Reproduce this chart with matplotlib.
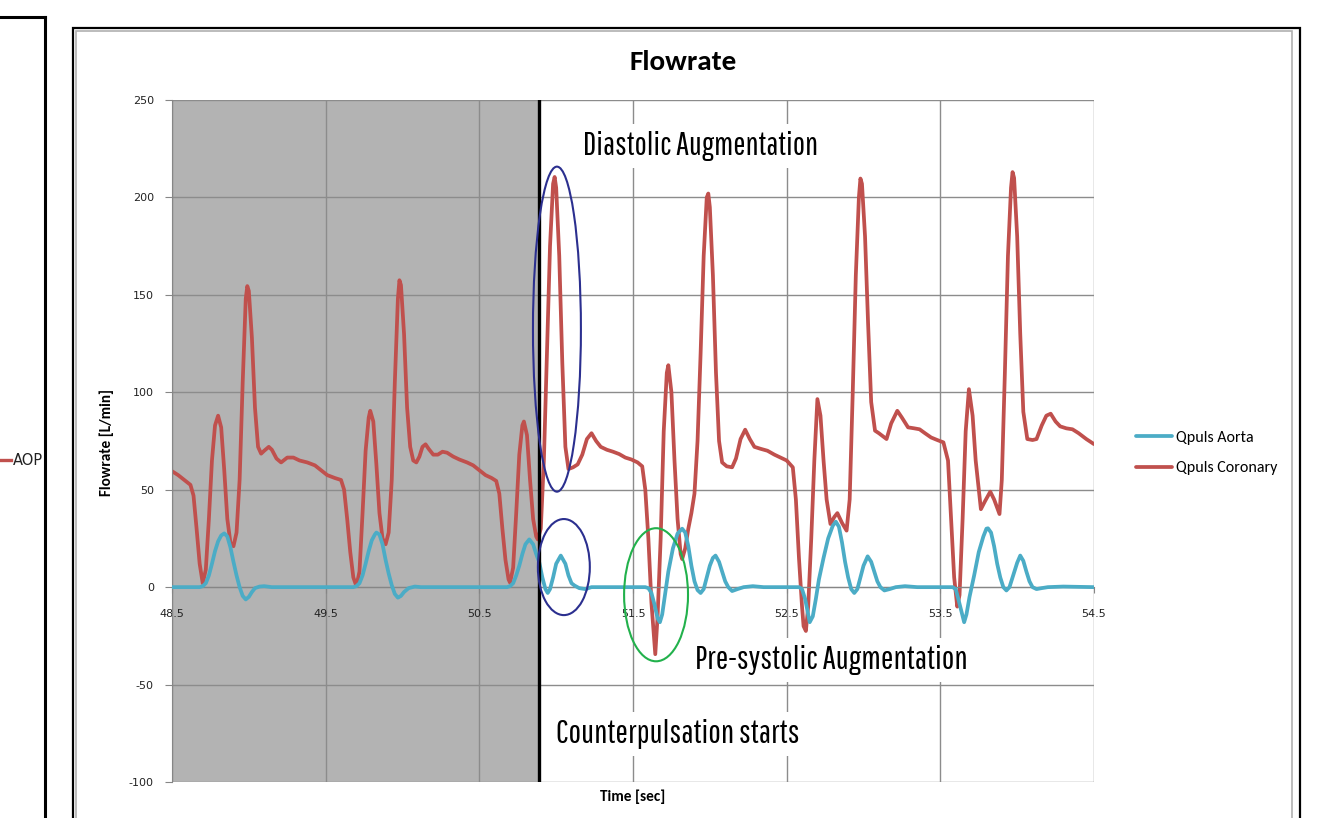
import matplotlib.pyplot as plt
from matplotlib.patches import Ellipse, Rectangle
from matplotlib.lines import Line2D
from matplotlib import font_manager

plt.rcParams['axes.unicode_minus'] = False

# ---- data ----
t_coronary = [48.50, 48.54, 48.58, 48.62, 48.64, 48.66, 48.68, 48.70, 48.72, 48.74, 48.76, 48.78, 48.80, 48.82,
              48.84, 48.86, 48.88, 48.90, 48.92, 48.94, 48.96, 48.98, 48.99, 49.00, 49.02, 49.04, 49.06, 49.08,
              49.10, 49.13, 49.15, 49.18, 49.21, 49.25, 49.29, 49.33, 49.38, 49.43, 49.47, 49.51, 49.56, 49.60,
              49.62, 49.64, 49.66, 49.68, 49.70, 49.72, 49.74, 49.76, 49.78, 49.79, 49.81, 49.83, 49.85, 49.87,
              49.89, 49.91, 49.93, 49.95, 49.97, 49.98, 49.99, 50.01, 50.03, 50.05, 50.07, 50.09, 50.11, 50.13,
              50.15, 50.17, 50.20, 50.23, 50.26, 50.29, 50.33, 50.37, 50.42, 50.46, 50.50, 50.54, 50.58, 50.61,
              50.63, 50.65, 50.67, 50.69, 50.70, 50.72, 50.74, 50.76, 50.78, 50.79, 50.81, 50.83, 50.85, 50.87,
              50.88, 50.90, 50.92, 50.94, 50.96, 50.98, 50.99, 51.00, 51.02, 51.04, 51.06, 51.08, 51.11, 51.14,
              51.17, 51.20, 51.23, 51.26, 51.29, 51.33, 51.37, 51.41, 51.45, 51.49, 51.53, 51.56, 51.58, 51.60,
              51.62, 51.645, 51.66, 51.68, 51.70, 51.72, 51.73, 51.75, 51.77, 51.79, 51.81, 51.82, 51.84, 51.86,
              51.88, 51.90, 51.92, 51.94, 51.96, 51.98, 51.99, 52.00, 52.02, 52.04, 52.06, 52.08, 52.11, 52.145,
              52.17, 52.20, 52.23, 52.26, 52.29, 52.33, 52.375, 52.42, 52.46, 52.50, 52.54, 52.56, 52.58, 52.60,
              52.61, 52.625, 52.64, 52.66, 52.68, 52.70, 52.72, 52.74, 52.76, 52.785, 52.81, 52.83, 52.86, 52.89,
              52.91, 52.93, 52.95, 52.97, 52.98, 52.99, 53.01, 53.03, 53.05, 53.075, 53.10, 53.15, 53.18, 53.22,
              53.25, 53.29, 53.33, 53.365, 53.40, 53.44, 53.48, 53.52, 53.55, 53.57, 53.59, 53.61, 53.625, 53.645,
              53.665, 53.686, 53.71, 53.73, 53.764, 53.79, 53.825, 53.85, 53.885, 53.90, 53.92, 53.94, 53.96, 53.97,
              53.98, 54.00, 54.02, 54.04, 54.066, 54.10, 54.126, 54.16, 54.19, 54.218, 54.25, 54.28, 54.32, 54.36,
              54.40, 54.45, 54.50]
q_coronary = [59.5, 57.5, 55, 52.5, 47, 30, 12, 2, 9, 35, 65, 83, 88, 82,
              60, 35, 23, 21, 28, 55, 105, 148, 154.5, 152, 128, 92, 72, 68.5,
              70, 72, 70.5, 66, 64, 66.5, 66.5, 65, 64, 62.5, 60, 57.5, 56, 55,
              50, 35, 18, 5, 0.5, 8, 38, 70, 87, 90.5, 85, 63, 38, 25,
              22, 28, 55, 105, 148, 157.5, 155, 130, 92, 72, 65, 64, 67, 72,
              73.3, 71, 68, 68, 69.5, 69, 67, 65.5, 64, 62.5, 60, 57.5, 56, 54.5,
              48, 30, 14, 4, 2.3, 10, 38, 68, 83, 85, 78, 55, 35, 26,
              24.5, 30, 65, 120, 175, 207, 210.5, 205, 170, 115, 72, 60.6, 61.5, 63,
              68, 76, 79, 75, 72, 70.5, 69.5, 68.3, 66.5, 65.5, 64, 62, 50, 25,
              -8, -34.4, -15, 25, 80, 110, 113.9, 100, 65, 35, 17, 14.4, 20, 30,
              38, 48, 75, 120, 170, 200, 202, 195, 160, 110, 75, 64, 62, 61.5,
              66, 76, 80.8, 76, 72, 71, 70, 68, 66.5, 65, 61.5, 45, 15, -10,
              -20, -22.5, -10, 25, 65, 96.5, 88, 65, 45, 32.4, 36, 38, 33, 29,
              45, 100, 160, 200, 209.7, 207, 180, 135, 95, 80.3, 79, 76, 84, 90.5,
              87, 82, 81.5, 81, 79, 76.8, 75.5, 74.3, 65, 35, 5, -10, -4, 35,
              80, 101.6, 88, 65, 40, 44, 49, 45, 37.5, 55, 110, 170, 205, 213,
              210, 180, 130, 90, 76, 75.5, 76, 83, 88, 89, 85, 82.5, 81.5, 81,
              79, 76, 73.4]

t_aorta = [48.50, 48.68, 48.70, 48.72, 48.74, 48.76, 48.78, 48.80, 48.82, 48.84, 48.86, 48.88, 48.90, 48.92,
           48.94, 48.96, 48.98, 49.00, 49.02, 49.04, 49.07, 49.10, 49.15, 49.68, 49.70, 49.72, 49.74, 49.76,
           49.78, 49.80, 49.82, 49.83, 49.85, 49.87, 49.89, 49.91, 49.93, 49.95, 49.97, 49.99, 50.01, 50.04,
           50.08, 50.12, 50.68, 50.70, 50.72, 50.74, 50.76, 50.78, 50.80, 50.825, 50.85, 50.87, 50.89, 50.91,
           50.93, 50.945, 50.96, 50.98, 51.00, 51.03, 51.06, 51.08, 51.10, 51.12, 51.15, 51.19, 51.23, 51.58,
           51.60, 51.62, 51.64, 51.66, 51.675, 51.69, 51.71, 51.73, 51.76, 51.79, 51.82, 51.84, 51.86, 51.88,
           51.90, 51.92, 51.94, 51.96, 51.98, 52.00, 52.02, 52.037, 52.06, 52.08, 52.10, 52.12, 52.145, 52.18,
           52.22, 52.28, 52.35, 52.58, 52.60, 52.62, 52.65, 52.67, 52.69, 52.71, 52.74, 52.77, 52.80, 52.82,
           52.84, 52.86, 52.88, 52.90, 52.92, 52.94, 52.96, 52.98, 53.00, 53.027, 53.05, 53.07, 53.09, 53.11,
           53.136, 53.17, 53.21, 53.27, 53.35, 53.58, 53.60, 53.62, 53.655, 53.67, 53.69, 53.72, 53.75, 53.78,
           53.80, 53.81, 53.83, 53.85, 53.87, 53.89, 53.91, 53.93, 53.95, 53.97, 54.00, 54.02, 54.04, 54.06,
           54.08, 54.10, 54.126, 54.16, 54.20, 54.30, 54.50]
q_aorta = [0, 0, 0.5, 2, 6, 12, 18.5, 23.5, 26.5, 27.6, 26, 20.5, 13, 6,
           0, -4.5, -6.3, -5, -2.5, -0.5, 0.3, 0.5, 0, 0, 0.5, 2, 6, 12,
           18.5, 24, 27, 28, 27, 22, 14, 7, 1, -3.5, -5.4, -4.5, -2.5, -0.5,
           0.3, 0, 0, 0.5, 2, 6, 11, 17, 22, 24.5, 22, 17, 12.7, 5,
           -1, -3, -1, 5, 12, 16.2, 12, 6, 2, 0.8, -0.5, -1, 0, 0,
           -0.5, -3, -9, -16, -18, -14, -3, 8, 20, 27.5, 30, 28, 21, 11,
           3, -1.5, -3, -1, 5, 11, 15, 16.2, 13, 8, 3, 0, -2, -1,
           0, 0.5, 0, 0, -1, -6, -18, -15, -6, 4, 15, 25, 31.5, 33.6,
           31, 23, 13, 5, -1, -3, -1, 5, 11, 15.8, 13, 8, 3, 0,
           -1.7, -1, 0, 0.5, 0, 0, -1, -7, -18, -14, -5, 6, 18, 26,
           30, 30.2, 28, 21, 12, 5, 0, -1.7, 0, 5, 12.5, 16.2, 13.5, 8,
           3, 0, -1, -0.5, 0, 0.3, 0]

x_ticks = [48.5, 49.5, 50.5, 51.5, 52.5, 53.5, 54.5]
y_ticks = [-100, -50, 0, 50, 100, 150, 200, 250]
pulsation_start = 50.89

# fonts: Calibri look-alike for chart text, a condensed face for the notes
fams = {f.name for f in font_manager.fontManager.ttflist}
chart_font = 'Carlito' if 'Carlito' in fams else 'DejaVu Sans'
note_font = 'DejaVu Sans'
for cand in ['Pathway Gothic One', 'Antonio', 'BenchNine', 'Fjalla One']:
    if cand in fams:
        note_font = cand
        break

W, H = 1329, 818
fig = plt.figure(figsize=(W / 100, H / 100), dpi=100)

ax = fig.add_axes([172 / W, 1 - 782 / H, (1094 - 172) / W, (782 - 100) / H])
ax.set_xlim(48.5, 54.5)
ax.set_ylim(-100, 250)

ax.axvspan(48.5, pulsation_start, color='#b3b3b3', zorder=0.1, lw=0)
ax.set_axisbelow(True)
ax.grid(True, color='#8c8c8c', lw=1)

ax.plot(t_aorta, q_aorta, color='#4bacc6', lw=2.7, label='Qpuls Aorta',
        solid_joinstyle='round', solid_capstyle='round', zorder=3)
ax.plot(t_coronary, q_coronary, color='#c0504d', lw=2.7, label='Qpuls Coronary',
        solid_joinstyle='round', solid_capstyle='round', zorder=2.5)
ax.axvline(pulsation_start, color='black', lw=2.4, zorder=4)

for s in ['top', 'right']:
    ax.spines[s].set_visible(False)
ax.spines['left'].set_color('#868686')
ax.spines['bottom'].set_color('#868686')
ax.spines['bottom'].set_position(('data', 0))
ax.set_xticks(x_ticks)
ax.set_xticklabels([str(x) for x in x_ticks])
ax.set_yticks(y_ticks)
ax.tick_params(axis='y', colors='#868686', labelcolor='#222222', labelsize=8, length=5, pad=8)
ax.tick_params(axis='x', colors='#868686', labelcolor='#222222', labelsize=8, length=4, pad=12)

fig.text(683 / W, 1 - 62 / H, 'Flowrate', ha='center', va='center', fontsize=21, fontweight='bold',
         family=chart_font)
fig.text(107 / W, 1 - 443 / H, 'Flowrate [L/min]', rotation=90, ha='center', va='center',
         fontsize=11, fontweight='bold', family=chart_font)
fig.text(633 / W, 1 - 797 / H, 'Time [sec]', ha='center', va='center',
         fontsize=11, fontweight='bold', family=chart_font)

# annotation circles
ax.add_patch(Ellipse((51.005, 132.4), 0.312, 166.8, fill=False, ec='#2b2f8f', lw=1.5, zorder=5))
ax.add_patch(Ellipse((51.05, 10.3), 0.338, 49.3, fill=False, ec='#2b2f8f', lw=1.5, zorder=5))
ax.add_patch(Ellipse((51.65, -3.9), 0.416, 68.3, fill=False, ec='#22b14c', lw=1.5, zorder=5))

box = dict(facecolor='white', edgecolor='none', pad=5)
ax.text(51.174, 226.4, 'Diastolic Augmentation', family=note_font, fontsize=23.5, ha='left', va='center',
        bbox=box, zorder=6)
ax.text(51.903, -37.5, 'Pre-systolic Augmentation', family=note_font, fontsize=24, ha='left', va='center',
        bbox=box, zorder=6)
ax.text(50.998, -75.5, 'Counterpulsation starts', family=note_font, fontsize=24, ha='left', va='center',
        bbox=box, zorder=6)

fig.legend(loc='center left', bbox_to_anchor=(1122 / W, 1 - 453 / H), frameon=False,
           prop={'family': chart_font, 'size': 11.5}, handlelength=2.2, handletextpad=0.3, labelspacing=1.0)

# chart frames
fig.add_artist(Rectangle((73 / W, -0.05), (1300 - 73) / W, 1.05 - 28 / H, transform=fig.transFigure,
                         fill=False, ec='black', lw=1.6))
fig.add_artist(Rectangle((76 / W, -0.05), (1292 - 76) / W, 1.05 - 31 / H, transform=fig.transFigure,
                         fill=False, ec='#b0b0b0', lw=1.2))
fig.add_artist(Line2D([0, 45 / W], [1 - 17 / H, 1 - 17 / H], transform=fig.transFigure, color='black', lw=2.2))
fig.add_artist(Line2D([45 / W, 45 / W], [0, 1 - 17 / H], transform=fig.transFigure, color='black', lw=2.2))
fig.add_artist(Line2D([0, 11 / W], [1 - 460 / H, 1 - 460 / H], transform=fig.transFigure, color='#c0504d', lw=2.4))
fig.text(13 / W, 1 - 460 / H, 'AOP', ha='left', va='center', fontsize=10.5, color='#222222')

fig.savefig('out.png', dpi=100)
